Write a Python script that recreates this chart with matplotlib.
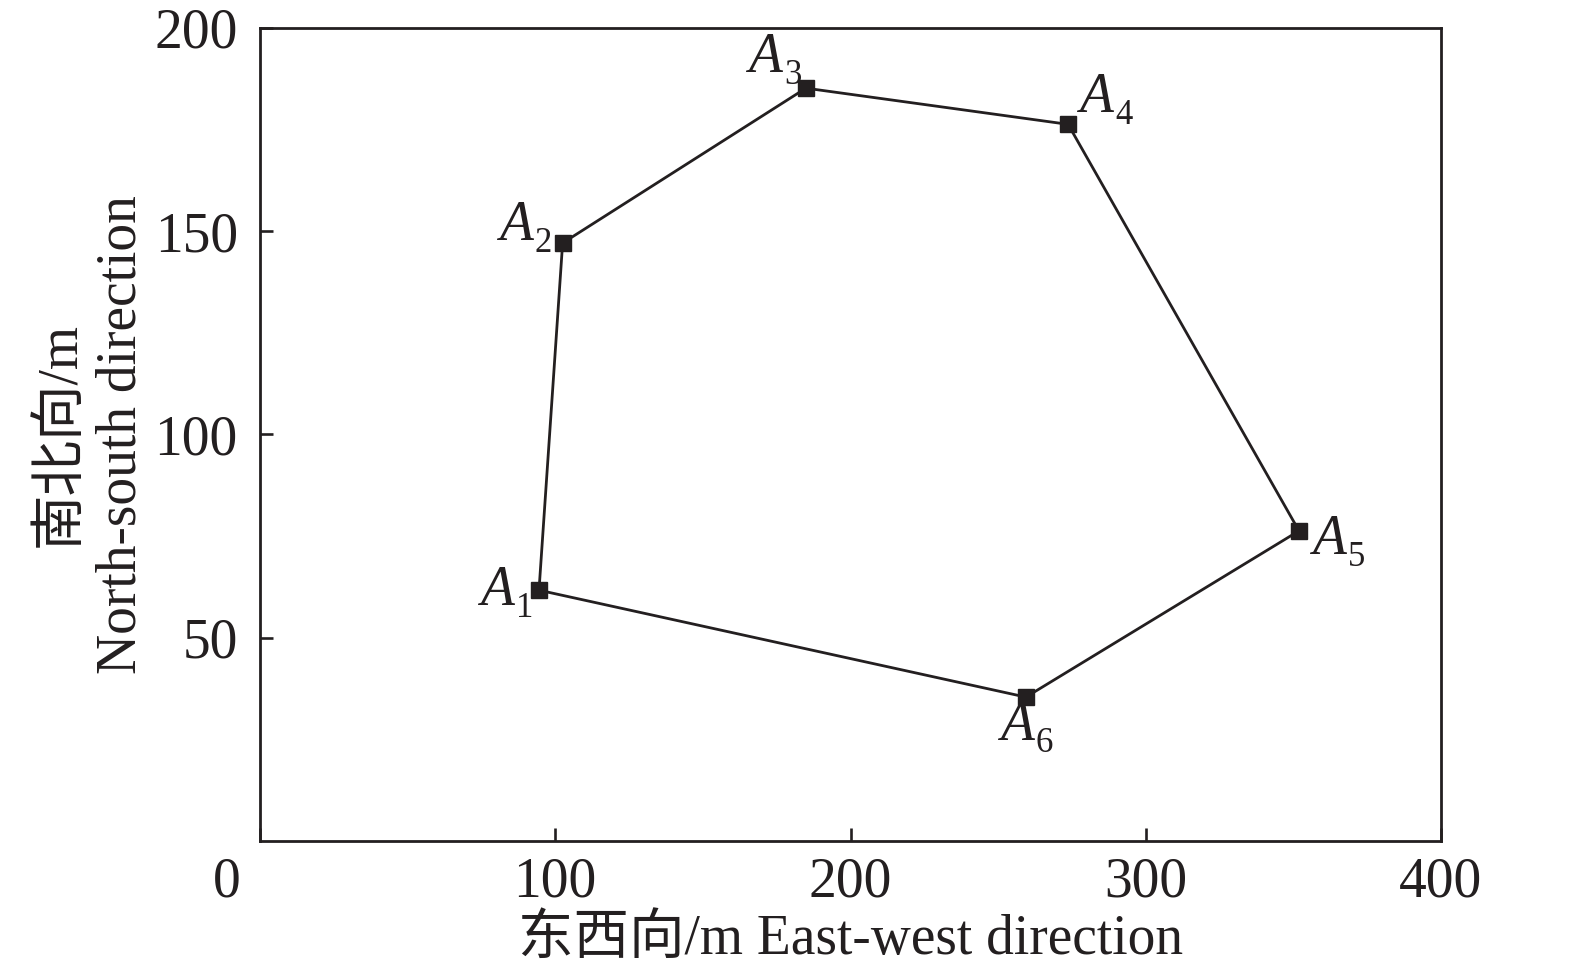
import matplotlib
matplotlib.use("Agg")
import matplotlib.pyplot as plt
from matplotlib.transforms import ScaledTranslation

# Data
names = ["A", "A", "A", "A", "A", "A"]
subs = ["1", "2", "3", "4", "5", "6"]
xs = [94.5, 102.5, 184.9, 273.7, 351.9, 259.4]
ys = [61.7, 147.1, 185.2, 176.3, 76.3, 35.4]
xticks = [0, 100, 200, 300, 400]
yticks = [50, 100, 150, 200]
xlabel = "东西向/m East-west direction"
ylabel = "南北向/m\nNorth-south direction"

# label offsets in pixels (left edge / baseline of label relative to point)
offsets = [(-59, -15), (-64, 3), (-58, 16), (11, 12), (13, -23), (-26, -43)]

plt.rcParams['font.family'] = ['Liberation Serif', 'Noto Sans CJK SC', 'DejaVu Sans']

C = '#231f20'
fig = plt.figure(figsize=(15.75, 9.65), dpi=100)
ax = fig.add_axes([260/1575, 1-841/965, (1441-260)/1575, (841-28)/965])

px = xs + [xs[0]]
py = ys + [ys[0]]
ax.plot(px, py, color=C, lw=2.0, zorder=2)
ax.plot(xs, ys, ls='none', marker='s', ms=11.5, color=C, zorder=3)

for n, s, x, y, (dx, dy) in zip(names, subs, xs, ys, offsets):
    ax.annotate(n, (x, y), xytext=(dx, dy), textcoords='offset pixels',
                ha='left', va='baseline', fontsize=40, color=C, style='italic')
    ax.annotate(s, (x, y), xytext=(dx + 36, dy - 12), textcoords='offset pixels',
                ha='left', va='baseline', fontsize=25, color=C)

ax.set_xlim(0, 400)
ax.set_ylim(0, 200)
ax.set_xticks(xticks)
ax.set_yticks(yticks)
ax.tick_params(axis='both', direction='in', length=9.4, width=1.9, colors=C,
               labelsize=40, top=False, right=False)
ax.tick_params(axis='x', pad=11)
ax.tick_params(axis='y', pad=16)
for sp in ax.spines.values():
    sp.set_linewidth(2.0)
    sp.set_color(C)

# shift the "0" label to the left as in the reference
lab0 = ax.get_xticklabels()[0]
lab0.set_transform(lab0.get_transform() + ScaledTranslation(-33/100, 0, fig.dpi_scale_trans))

ax.set_xlabel(xlabel, fontsize=40, color=C, labelpad=4)
ax.set_ylabel(ylabel, fontsize=40, color=C, labelpad=5, linespacing=1.22)

fig.savefig("out.png", dpi=100)
